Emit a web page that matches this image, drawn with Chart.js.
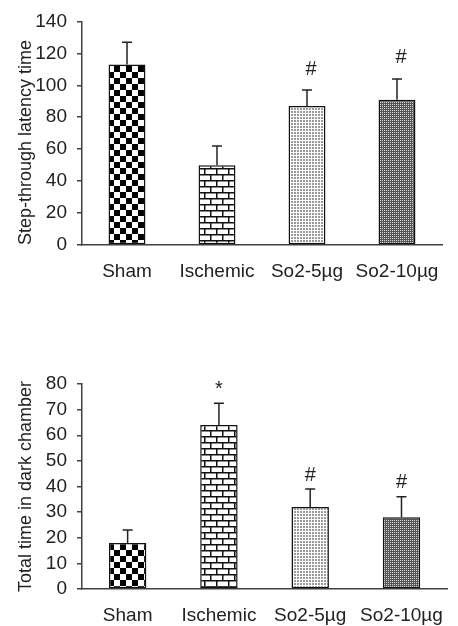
<!DOCTYPE html>
<html>
<head>
<meta charset="utf-8">
<script src="https://cdn.jsdelivr.net/npm/chart.js@4"></script>
<style>
  html, body { margin: 0; padding: 0; background: #fff; }
  body { width: 458px; height: 626px; position: relative; overflow: hidden; }
  .box { position: absolute; left: 0; width: 458px; }
  #top { top: 0; height: 300px; }
  #bottom { top: 340px; height: 286px; }
</style>
</head>
<body>
<div class="box" id="top"><canvas id="chart1"></canvas></div>
<div class="box" id="bottom"><canvas id="chart2"></canvas></div>
<script>
// CHART DATA
// -----------------------------
const categories = ['Sham', 'Ischemic', 'So2-5µg', 'So2-10µg'];

// Step-through latency
const latencyMeans = [113, 50, 87, 91];
const latencyErrors = [14, 12, 10, 13];
const latencyMarks = ['', '', '#', '#'];
const latencyMax = 140;
const latencyStep = 20;

// Time in dark chamber
const darkMeans = [18, 64, 32, 28];
const darkErrors = [5, 8.5, 7, 8];
const darkMarks = ['', '*', '#', '#'];
const darkMax = 80;
const darkStep = 10;

// PATTERNS
// -----------------------------
function makePattern(size, draw) {
  const c = document.createElement('canvas');
  c.width = size;
  c.height = size;
  const g = c.getContext('2d');
  draw(g);
  return g.createPattern(c, 'repeat');
}

const checker = makePattern(12, g => {
  g.fillStyle = '#fff';
  g.fillRect(0, 0, 12, 12);
  g.fillStyle = '#000';
  g.fillRect(0, 0, 6, 6);
  g.fillRect(6, 6, 6, 6);
});

const brick = makePattern(12, g => {
  g.fillStyle = '#fff';
  g.fillRect(0, 0, 12, 12);
  g.fillStyle = '#111';
  g.fillRect(0, 0, 12, 1.5);
  g.fillRect(0, 6, 12, 1.5);
  g.fillRect(0, 0, 1.5, 6);
  g.fillRect(6, 6, 1.5, 6);
});

const lightDots = makePattern(3, g => {
  g.fillStyle = '#fff';
  g.fillRect(0, 0, 3, 3);
  g.fillStyle = '#9a9a9a';
  g.fillRect(0, 0, 2, 2);
});

const darkDots = makePattern(2, g => {
  g.fillStyle = '#555';
  g.fillRect(0, 0, 2, 2);
  g.fillStyle = '#d8d8d8';
  g.fillRect(0, 0, 1, 1);
});

const fills = [checker, brick, lightDots, darkDots];

// ERROR BAR PLUGIN
// -----------------------------
const errorBars = {
  id: 'errorBars',
  afterDatasetsDraw(chart, args, opts) {
    const ctx = chart.ctx;
    const y = chart.scales.y;
    const meta = chart.getDatasetMeta(0);
    const means = chart.data.datasets[0].data;
    ctx.save();
    ctx.strokeStyle = '#222';
    ctx.lineWidth = 1.5;
    ctx.fillStyle = '#222';
    ctx.font = '20px "Liberation Sans", Arial, sans-serif';
    ctx.textAlign = 'center';
    ctx.textBaseline = 'middle';
    opts.errors.forEach((e, i) => {
      const bar = meta.data[i];
      const top = y.getPixelForValue(means[i] + e);
      ctx.beginPath();
      ctx.moveTo(bar.x, bar.y);
      ctx.lineTo(bar.x, top);
      ctx.moveTo(bar.x - 5, top);
      ctx.lineTo(bar.x + 5, top);
      ctx.stroke();
      if (opts.marks[i]) {
        ctx.fillText(opts.marks[i], bar.x + opts.shift, top - opts.gap);
      }
    });
    ctx.restore();
  }
};

Chart.defaults.font.family = '"Liberation Sans", Arial, sans-serif';
Chart.defaults.color = '#222';

// CHART CONFIG
// -----------------------------
function barConfig(means, errors, marks, max, step, title, titleAlign, pad, xHeight, gap, shift) {
  return {
    type: 'bar',
    data: {
      labels: categories,
      datasets: [{
        data: means,
        backgroundColor: fills,
        borderColor: '#111',
        borderWidth: 1.5,
        borderSkipped: false,
        categoryPercentage: 1,
        barPercentage: 0.41,
      }],
    },
    options: {
      responsive: true,
      maintainAspectRatio: false,
      animation: false,
      layout: { padding: pad },
      plugins: {
        legend: { display: false },
        tooltip: { enabled: false },
        errorBars: { errors: errors, marks: marks, gap: gap, shift: shift },
      },
      scales: {
        x: {
          grid: { display: false, drawTicks: false },
          border: { color: '#404040', width: 1.5 },
          ticks: { font: { size: 19 }, padding: 15, maxRotation: 0, autoSkip: false },
          afterFit: s => { s.height = xHeight; },
        },
        y: {
          min: 0,
          max: max,
          ticks: { stepSize: step, font: { size: 19 }, padding: 10, autoSkip: false },
          grid: { drawOnChartArea: false, drawTicks: true, tickLength: 5, color: '#404040', lineWidth: 1.5 },
          border: { color: '#404040', width: 1.5 },
          title: { display: true, text: title, align: titleAlign, font: { size: 18 }, padding: { top: 15, bottom: 0 } },
          afterFit: s => { s.width = 82; },
        },
      },
    },
    plugins: [errorBars],
  };
}

// RENDER CHARTS
// -----------------------------
new Chart(document.getElementById('chart1'), barConfig(
  latencyMeans, latencyErrors, latencyMarks, latencyMax, latencyStep,
  'Step-through latency time', 'start', { top: 17, right: 16, left: 0, bottom: 0 }, 55, 21, 4));

new Chart(document.getElementById('chart2'), barConfig(
  darkMeans, darkErrors, darkMarks, darkMax, darkStep,
  'Total time in dark chamber', 'center', { top: 44, right: 1, left: 0, bottom: 0 }, 37, 14, 0));
</script>
</body>
</html>
